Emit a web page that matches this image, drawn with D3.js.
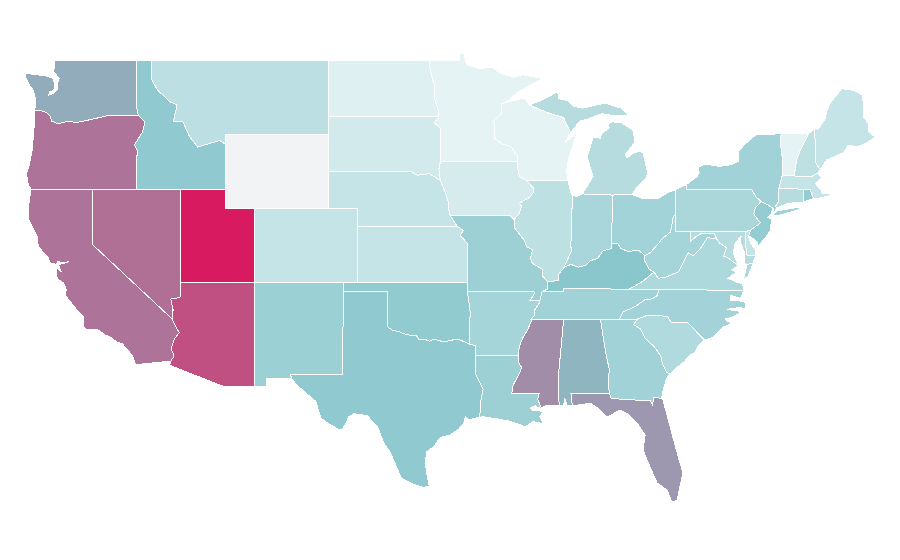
<!DOCTYPE html>
<html>
<head>
<meta charset="utf-8">
<title>US states</title>
<script src="https://cdn.jsdelivr.net/npm/d3@7"></script>
<style>
  html, body { margin: 0; padding: 0; background: #fff; }
  svg { display: block; }
  .state { stroke: #fff; stroke-width: 1; shape-rendering: crispEdges; }
</style>
</head>
<body>
<svg id="map"></svg>
<script>
// values (Wyoming has none)
const states = ["Alabama","Arizona","Arkansas","California","Colorado","Connecticut","Delaware","Florida","Georgia","Idaho","Illinois","Indiana","Iowa","Kansas","Kentucky","Louisiana","Maine","Maryland","Massachusetts","Michigan","Minnesota","Mississippi","Missouri","Montana","Nebraska","Nevada","New Hampshire","New Jersey","New Mexico","New York","North Carolina","North Dakota","Ohio","Oklahoma","Oregon","Pennsylvania","Rhode Island","South Carolina","South Dakota","Tennessee","Texas","Utah","Vermont","Virginia","Washington","West Virginia","Wisconsin","Wyoming"];
const values = [46,81.4,28.3,69,15.9,21.7,15.9,56,30.3,36.5,19,26.8,9.7,15.9,39.2,31.8,15.9,21.7,15.9,21.7,3.5,60,31.5,19.4,15.9,70.6,19,35.3,32.2,30.3,29,5.8,29.5,36,69,26,35,24,10.9,30.3,36.5,100,3.5,25.2,49,28,3.5,null];

// shared borders, lon/lat
const borders = {
  canWa: [[-122.65,49],[-117.03,49]],
  waCoast: [[-122.65,49],[-122.58,48.64],[-122.7,48.4],[-122.56,48.28],[-122.3,48],[-122.42,47.69],[-122.4,47.4],[-122.7,47.2],[-123,47.1],[-122.95,47.3],[-122.65,47.35],[-122.6,47.7],[-122.7,48],[-123.25,48.15],[-124.6,48.28],[-124.6,48.1],[-124.27,47.56],[-124.05,47.38],[-123.93,47],[-123.9,46.6],[-123.95,46.25]],
  waOr: [[-123.95,46.25],[-123.45,46.25],[-123.15,46.15],[-122.9,45.95],[-122.8,45.7],[-122.35,45.55],[-121.7,45.7],[-121.15,45.62],[-120.5,45.72],[-119.9,45.83],[-119.3,45.93],[-118.98,46],[-116.92,46]],
  waId: [[-117.03,49],[-117.04,46.42],[-116.92,46]],
  orCoast: [[-123.95,46.25],[-123.95,45.7],[-124.05,44.9],[-124.1,44.2],[-124.3,43.4],[-124.5,42.85],[-124.4,42.3],[-124.2,42]],
  orCa: [[-124.2,42],[-120,42]],
  orNv: [[-120,42],[-117.03,42]],
  orId: [[-116.92,46],[-116.47,45.65],[-116.65,45.1],[-116.85,44.85],[-117.2,44.4],[-117.05,44.2],[-116.95,44],[-117.03,43.8],[-117.03,42]],
  idNv: [[-117.03,42],[-114.04,42]],
  idUt: [[-114.04,42],[-111.05,42]],
  idWy: [[-111.05,42],[-111.05,44.45]],
  idTop: [[-117.03,49],[-116.05,49]],
  idMt: [[-116.05,49],[-116.05,48],[-115.65,47.4],[-114.8,46.75],[-114.3,46.57],[-114.55,45.65],[-113.9,45.65],[-113.45,44.85],[-112.9,44.3],[-111.4,44.65],[-111.05,44.45]],
  mtTop: [[-116.05,49],[-104.05,49]],
  mtNd: [[-104.05,49],[-104.05,45.94]],
  mtSd: [[-104.05,45.94],[-104.05,45]],
  mtWy: [[-104.05,45],[-111.05,45],[-111.05,44.45]],
  wySd: [[-104.05,45],[-104.05,43]],
  wyNe: [[-104.05,43],[-104.05,41]],
  wyCo: [[-104.05,41],[-109.05,41]],
  wyUt: [[-109.05,41],[-111.05,41],[-111.05,42]],
  caCoast: [[-124.2,42],[-124.35,41.2],[-124.4,40.44],[-123.8,39.5],[-123.7,38.9],[-123,38.3],[-122.95,38.05],[-122.5,37.95],[-122.4,38.1],[-122,38.05],[-121.6,38.1],[-122,38],[-122.35,37.95],[-122.15,37.55],[-122.45,37.75],[-122.5,37.5],[-122.4,37.15],[-122,36.95],[-121.8,36.57],[-121.9,36.3],[-121.3,35.7],[-120.9,35.3],[-120.65,35.15],[-120.63,34.57],[-120.47,34.45],[-119.6,34.4],[-119.2,34.15],[-118.8,34],[-118.35,33.75],[-118,33.65],[-117.3,33],[-117.12,32.53],[-114.72,32.72]],
  caAz: [[-114.72,32.72],[-114.5,33],[-114.7,33.4],[-114.5,33.9],[-114.15,34.27],[-114.4,34.6],[-114.63,35]],
  caNv: [[-114.63,35],[-120,39],[-120,42]],
  nvUt: [[-114.04,42],[-114.04,37]],
  nvAz: [[-114.04,37],[-114.04,36.2],[-114.35,36.13],[-114.72,36.08],[-114.57,35.5],[-114.63,35]],
  utCo: [[-109.05,41],[-109.05,37]],
  utAz: [[-109.05,37],[-114.04,37]],
  azNm: [[-109.05,37],[-109.05,31.33]],
  azMex: [[-109.05,31.33],[-111.07,31.33],[-114.81,32.5],[-114.72,32.72]],
  coNm: [[-109.05,37],[-103,37]],
  coOk: [[-103,37],[-102.05,37]],
  coKs: [[-102.05,37],[-102.05,40]],
  coNe: [[-102.05,40],[-102.05,41],[-104.05,41]],
  nmOk: [[-103,37],[-103.04,36.5]],
  nmTx: [[-103.04,36.5],[-103.06,32],[-106.62,32],[-106.53,31.78]],
  nmMex: [[-106.53,31.78],[-108.21,31.78],[-108.21,31.33],[-109.05,31.33]],
  okTx: [[-103.04,36.5],[-100,36.5],[-100,34.56],[-99.7,34.4],[-99.2,34.3],[-98.9,34.2],[-98.4,34.1],[-98.1,34.13],[-97.9,33.9],[-97.5,33.9],[-97.2,33.8],[-96.9,33.9],[-96.6,33.85],[-96.2,33.75],[-95.8,33.85],[-95.2,33.9],[-94.48,33.64]],
  arTx: [[-94.48,33.64],[-94.04,33.55],[-94.04,33.02]],
  laTx: [[-94.04,33.02],[-94.04,32],[-93.55,31.2],[-93.7,30.6],[-93.7,30.1],[-93.84,29.69]],
  txCoast: [[-93.84,29.69],[-94.5,29.55],[-94.75,29.75],[-94.85,29.4],[-95.2,29.05],[-95.8,28.73],[-96.45,28.6],[-96.9,28.1],[-97.4,27.8],[-97.45,27.2],[-97.4,26.75],[-97.2,25.95]],
  txRio: [[-97.2,25.95],[-97.6,25.9],[-98.2,26.05],[-99.1,26.4],[-99.45,27.05],[-99.85,27.8],[-100.3,28.3],[-100.65,29.1],[-101.05,29.45],[-101.4,29.77],[-102.3,29.88],[-102.65,29.73],[-102.85,29.35],[-103.15,28.98],[-103.3,29.02],[-104,29.32],[-104.55,29.65],[-104.9,30.55],[-105.5,30.95],[-106.2,31.45],[-106.53,31.78]],
  okKs: [[-102.05,37],[-94.62,37]],
  okMo: [[-94.62,37],[-94.62,36.5]],
  okAr: [[-94.62,36.5],[-94.43,35.4],[-94.48,33.64]],
  ksMo: [[-94.62,37],[-94.62,39.1],[-95.1,39.5],[-94.9,39.8],[-95.3,40]],
  neKs: [[-95.3,40],[-102.05,40]],
  neMo: [[-95.3,40],[-95.77,40.58]],
  iaNe: [[-96.45,42.5],[-96.1,41.8],[-95.9,41.3],[-95.85,40.7],[-95.77,40.58]],
  neSd: [[-96.45,42.5],[-97.2,42.85],[-98,42.77],[-98.5,43],[-104.05,43]],
  ndSd: [[-104.05,45.94],[-96.56,45.94]],
  mnSd: [[-96.56,45.94],[-96.85,45.6],[-96.45,45.3],[-96.45,43.5]],
  iaSd: [[-96.45,43.5],[-96.55,43.1],[-96.45,42.5]],
  ndTop: [[-104.05,49],[-97.23,49]],
  mnNd: [[-97.23,49],[-97.15,48.5],[-96.85,47.6],[-96.85,46.9],[-96.6,46.35],[-96.56,45.94]],
  mnTop: [[-97.23,49],[-95.15,49],[-95.15,49.38],[-94.85,49.32],[-94.65,48.75],[-93.8,48.55],[-92.95,48.6],[-92.4,48.3],[-91.5,48.07],[-90.85,48.2],[-89.5,48],[-90.1,47.75],[-91.2,47.25],[-92.02,46.7]],
  mnWi: [[-92.02,46.7],[-92.3,46.65],[-92.3,46.1],[-92.9,45.65],[-92.75,45.55],[-92.8,45.1],[-92.75,44.75],[-92.25,44.45],[-91.7,44.35],[-91.25,43.85],[-91.22,43.5]],
  iaMn: [[-91.22,43.5],[-96.45,43.5]],
  iaMo: [[-95.77,40.58],[-91.73,40.6],[-91.45,40.38]],
  iaIl: [[-91.45,40.38],[-91.1,40.7],[-90.95,41.1],[-91.1,41.25],[-90.35,41.6],[-90.15,41.85],[-90.15,42.1],[-90.65,42.51]],
  iaWi: [[-90.65,42.51],[-91.1,42.7],[-91.2,43.1],[-91.22,43.5]],
  arMo: [[-94.62,36.5],[-90.15,36.5],[-90.05,36.4],[-90.37,36],[-89.7,36]],
  tnMo: [[-89.7,36],[-89.55,36.5]],
  kyMo: [[-89.55,36.5],[-89.2,36.6],[-89.15,37]],
  ilMo: [[-89.15,37],[-89.5,37.3],[-89.55,37.7],[-90.2,38],[-90.35,38.25],[-90.2,38.75],[-90.6,38.9],[-90.75,39.25],[-91.4,39.9],[-91.45,40.38]],
  arTn: [[-89.7,36],[-89.7,35.9],[-90.05,35.5],[-90.1,35.15],[-90.3,35]],
  arMs: [[-90.3,35],[-90.3,34.85],[-90.55,34.4],[-90.85,34],[-91.1,33.5],[-91.17,33]],
  arLa: [[-91.17,33],[-94.04,33.02]],
  laMs: [[-91.17,33],[-91.15,32.65],[-90.95,32.4],[-91,32.2],[-91.4,31.6],[-91.55,31.35],[-91.6,31],[-89.75,31],[-89.85,30.65],[-89.6,30.18]],
  laCoast: [[-89.6,30.18],[-89.8,30.2],[-90,30.3],[-90.35,30.2],[-90.2,30.03],[-89.85,30.05],[-89.5,30],[-89.7,29.72],[-89.5,29.4],[-89.15,29.05],[-89.55,29.35],[-90.17,29.45],[-90.7,29.18],[-91.3,29.35],[-91.85,29.5],[-92.2,29.54],[-92.6,29.6],[-93.56,29.72],[-93.84,29.69]],
  msTop: [[-90.3,35],[-88.2,35]],
  msAl: [[-88.2,35],[-88.1,34.9],[-88.45,31.9],[-88.4,30.35]],
  msCoast: [[-88.4,30.35],[-89.2,30.35],[-89.6,30.18]],
  tnAl: [[-85.6,34.98],[-88.2,35]],
  alCoast: [[-88.4,30.35],[-88.1,30.3],[-88,30.7],[-87.85,30.3],[-87.5,30.3]],
  alFl: [[-87.5,30.3],[-87.6,31],[-85,31]],
  gaAl: [[-85,31],[-85.05,31.55],[-85,32.3],[-85.2,33],[-85.6,34.98]],
  kyTn: [[-83.67,36.6],[-86.5,36.65],[-88.07,36.67],[-88.07,36.5],[-89.55,36.5]],
  tnGa: [[-85.6,34.98],[-84.32,34.99]],
  tnNc: [[-81.68,36.59],[-81.7,36.3],[-82.05,36.1],[-82.6,36.03],[-83.1,35.75],[-83.5,35.57],[-84.05,35.4],[-84.32,34.99]],
  tnVa: [[-81.68,36.59],[-83.67,36.6]],
  ohKy: [[-84.82,39.1],[-84.4,39.05],[-84.2,38.8],[-83.7,38.65],[-83,38.72],[-82.6,38.42]],
  kyWv: [[-82.6,38.42],[-82.6,38.15],[-82.3,37.7],[-81.97,37.54]],
  kyVa: [[-81.97,37.54],[-82.7,37.05],[-83.67,36.6]],
  ilKy: [[-88.05,37.8],[-88.45,37.4],[-88.45,37.1],[-89.15,37]],
  inKy: [[-88.05,37.8],[-87.6,37.95],[-87.1,37.8],[-86.6,37.9],[-86.3,38.15],[-85.8,38.27],[-85.4,38.7],[-84.85,38.8],[-84.82,39.1]],
  ilWi: [[-90.65,42.51],[-87.8,42.5]],
  ilLake: [[-87.8,42.5],[-87.6,41.85],[-87.52,41.7]],
  ilIn: [[-87.52,41.7],[-87.53,39.35],[-87.65,39.1],[-87.55,38.7],[-87.95,38],[-88.05,37.8]],
  inLake: [[-87.52,41.7],[-87.2,41.62],[-86.82,41.76]],
  inMi: [[-86.82,41.76],[-84.8,41.7]],
  inOh: [[-84.8,41.7],[-84.82,39.1]],
  miOh: [[-84.8,41.7],[-83.45,41.73]],
  ohLake: [[-83.45,41.73],[-82.7,41.5],[-81.7,41.5],[-81,41.85],[-80.52,41.98]],
  ohPa: [[-80.52,41.98],[-80.52,40.64]],
  ohWv: [[-80.52,40.64],[-80.65,40.55],[-80.85,39.7],[-81.4,39.35],[-81.75,39],[-82.2,38.6],[-82.6,38.42]],
  wiSup: [[-92.02,46.7],[-91.2,46.87],[-90.75,46.95],[-90.42,46.57]],
  wiMi: [[-90.42,46.57],[-89.1,46.13],[-88.1,45.9],[-87.8,45.35],[-87.6,45.1]],
  wiLake: [[-87.6,45.1],[-88,44.55],[-87.4,44.9],[-87.1,45.25],[-87.5,44.3],[-87.75,43.7],[-87.9,43],[-87.8,42.5]],
  miEast: [[-83.45,41.73],[-83.15,42.1],[-82.5,42.6],[-82.4,42.9],[-82.7,43.97],[-83,44.07],[-83.4,43.95],[-83.8,43.7],[-83.9,43.9],[-83.25,44.58],[-83.4,45.2],[-84.15,45.6],[-84.8,45.66],[-85.1,45.55],[-85,45.35],[-85.5,45],[-85.6,44.78],[-86.1,44.8],[-86.5,43.75],[-86.1,42.7],[-86.82,41.76]],
  miUp: [[-87.6,45.1],[-87,45.7],[-86.5,45.8],[-85.5,46.1],[-84.75,46],[-83.7,46],[-84.2,46.4],[-85.3,46.67],[-86.8,46.4],[-87.4,46.5],[-87.8,46.8],[-88.4,46.9],[-88.5,47.3],[-87.8,47.4],[-88.6,47.25],[-89.5,46.85],[-90.42,46.57]],
  miIsle: [[-89.2,47.85],[-88.5,48.15],[-88.9,47.95],[-89.2,47.85]],
  paLake: [[-80.52,41.98],[-79.76,42.27]],
  nyPa: [[-79.76,42.27],[-79.76,42],[-75.35,42],[-75.05,41.6],[-74.7,41.36]],
  njPa: [[-74.7,41.36],[-75.1,41],[-75.2,40.7],[-75.1,40.55],[-74.75,40.2],[-74.9,40.1],[-75.42,39.8]],
  dePa: [[-75.42,39.8],[-75.79,39.72]],
  mdPa: [[-75.79,39.72],[-79.48,39.72]],
  wvPa: [[-79.48,39.72],[-80.52,39.72],[-80.52,40.64]],
  wvVa: [[-81.97,37.54],[-81.68,37.2],[-81.2,37.25],[-80.3,37.55],[-79.65,38.58],[-79.3,38.42],[-78.85,38.77],[-78.35,39.4],[-77.72,39.32]],
  mdWv: [[-77.72,39.32],[-77.85,39.6],[-78.4,39.62],[-78.8,39.6],[-79.1,39.47],[-79.48,39.2],[-79.48,39.72]],
  vaNc: [[-81.68,36.59],[-75.87,36.55]],
  vaCoast: [[-75.87,36.55],[-75.95,36.9],[-76.4,37],[-76.95,37.2],[-76.35,37.55],[-76.7,37.65],[-76.25,37.9]],
  mdVa: [[-76.25,37.9],[-76.95,38.3],[-77.25,38.4],[-77.05,38.85],[-77.5,39.1],[-77.72,39.32]],
  vaShore: [[-75.9,37.15],[-75.58,37.3],[-75.25,38.03],[-75.65,37.95],[-75.9,37.15]],
  mdBay: [[-76.25,37.9],[-76.59,38.55],[-76.47,39.09],[-76.05,39.5],[-76.14,39.2],[-75.8,38.55],[-75.85,38],[-75.65,37.95]],
  mdShore: [[-75.65,37.95],[-75.25,38.03],[-75.05,38.45]],
  deMd: [[-75.79,39.72],[-75.7,38.46],[-75.05,38.45]],
  deCoast: [[-75.42,39.8],[-75.55,39.45],[-75.4,39.05],[-75.1,38.8],[-75.05,38.45]],
  njNy: [[-74.7,41.36],[-73.9,41]],
  njCoast: [[-73.9,41],[-74.05,40.65],[-74.25,40.5],[-73.98,40.4],[-74.1,39.75],[-74.4,39.4],[-74.9,38.95],[-75,39.2],[-75.55,39.5],[-75.42,39.8]],
  nyLake: [[-79.76,42.27],[-79.05,42.7],[-78.9,42.9],[-78.97,43.2],[-78.5,43.37],[-77.5,43.25],[-76.7,43.35],[-76.2,43.55],[-76.27,44.03],[-75.8,44.45],[-75.35,44.77],[-75,44.97],[-73.35,45.01]],
  nyVt: [[-73.35,45.01],[-73.4,44.5],[-73.25,43.6],[-73.27,42.75]],
  nyMa: [[-73.27,42.75],[-73.5,42.05]],
  ctNy: [[-73.5,42.05],[-73.55,41.3],[-73.72,41.1],[-73.65,41]],
  nyCoast: [[-73.65,41],[-73.8,40.8],[-73.9,41]],
  longIsland: [[-73.87,40.62],[-73.65,40.85],[-73.1,40.92],[-72.3,41.02],[-71.95,41],[-72.5,40.82],[-73.5,40.6],[-73.87,40.62]],
  vtTop: [[-73.35,45.01],[-71.5,45.01]],
  vtMa: [[-73.27,42.75],[-72.46,42.73]],
  nhVt: [[-72.46,42.73],[-72.3,43.6],[-72.05,44.1],[-71.5,45.01]],
  nhTop: [[-71.5,45.01],[-71.08,45.3]],
  nhMe: [[-71.08,45.3],[-70.98,43.4],[-70.7,43.08]],
  nhCoast: [[-70.7,43.08],[-70.85,42.88]],
  nhMa: [[-70.85,42.88],[-71.3,42.7],[-72.46,42.73]],
  meOuter: [[-71.08,45.3],[-70.85,45.25],[-70.4,45.75],[-70.25,46.2],[-70,46.7],[-69.22,47.46],[-69.05,47.43],[-68.35,47.35],[-67.8,47.07],[-67.78,45.95],[-67.45,45.6],[-67.45,45.15],[-66.97,44.83],[-67.6,44.5],[-68.2,44.3],[-68.8,44.4],[-69.1,44],[-69.8,43.75],[-70.25,43.6],[-70.7,43.08]],
  maCoast: [[-70.85,42.88],[-70.6,42.65],[-71,42.3],[-70.65,41.98],[-70.55,41.78],[-70.05,41.8],[-69.95,41.7],[-70.6,41.55],[-71.15,41.5]],
  maRi: [[-71.15,41.5],[-71.33,41.9],[-71.38,42.02],[-71.8,42.02]],
  maCt: [[-71.8,42.02],[-73.5,42.05]],
  ctRi: [[-71.8,42.02],[-71.86,41.32]],
  ctCoast: [[-71.86,41.32],[-72.9,41.25],[-73.65,41]],
  riCoast: [[-71.86,41.32],[-71.4,41.45],[-71.15,41.5]],
  gaNc: [[-84.32,34.99],[-83.1,35]],
  ncSc: [[-83.1,35],[-82.4,35.2],[-81.05,35.15],[-80.8,34.82],[-79.67,34.8],[-78.55,33.86]],
  ncCoast: [[-78.55,33.86],[-77.95,34],[-77.3,34.55],[-76.75,34.75],[-77.15,35],[-76.65,35.1],[-76,35.4],[-77.04,35.52],[-76.2,35.62],[-75.75,35.55],[-75.75,35.9],[-76.3,36],[-76.8,36],[-76.8,36.3],[-76.1,36.1],[-75.95,36.4],[-75.87,36.55]],
  scCoast: [[-78.55,33.86],[-79,33.5],[-79.2,33.2],[-79.6,33],[-79.9,32.7],[-80.45,32.35],[-80.87,32.03]],
  gaSc: [[-83.1,35],[-83.35,34.7],[-82.9,34.48],[-82.55,33.95],[-81.95,33.5],[-81.5,33],[-81.4,32.6],[-81.1,32.1],[-80.87,32.03]],
  gaFl: [[-85,31],[-84.86,30.7],[-82.2,30.57],[-82.05,30.35],[-82,30.75],[-81.45,30.72]],
  gaCoast: [[-81.45,30.72],[-81.3,31.3],[-81.1,31.8],[-80.87,32.03]],
  flCoast: [[-87.5,30.3],[-86.3,30.45],[-85.7,30.15],[-85.15,29.7],[-84.27,30.08],[-83.7,29.85],[-83.1,29.38],[-82.57,28.73],[-82.71,27.92],[-82.44,27.38],[-81.76,26.14],[-81.08,25.76],[-80.75,25.1],[-80.4,25.2],[-80,26.7],[-80.2,27.2],[-80.68,28.6],[-81.35,30.6],[-81.45,30.72]]
};

// each state: rings built from the borders, "-" means walk it backwards
const shapes = {
  Washington: [["canWa","waId","-waOr","-waCoast"]],
  Oregon: [["waOr","orId","-orNv","-orCa","-orCoast"]],
  Idaho: [["idTop","idMt","-idWy","-idUt","-idNv","-orId","-waId"]],
  Montana: [["mtTop","mtNd","mtSd","mtWy","-idMt"]],
  Wyoming: [["-mtWy","wySd","wyNe","wyCo","wyUt","idWy"]],
  California: [["caCoast","caAz","caNv","-orCa"]],
  Nevada: [["orNv","idNv","nvUt","nvAz","caNv"]],
  Utah: [["idUt","-wyUt","utCo","utAz","-nvUt"]],
  Arizona: [["-utAz","azNm","azMex","caAz","-nvAz"]],
  Colorado: [["utCo","coNm","coOk","coKs","coNe","wyCo"]],
  "New Mexico": [["coNm","nmOk","nmTx","nmMex","-azNm"]],
  Texas: [["okTx","arTx","laTx","txCoast","txRio","-nmTx"]],
  Oklahoma: [["coOk","okKs","okMo","okAr","-okTx","-nmOk"]],
  Kansas: [["okKs","ksMo","neKs","-coKs"]],
  Nebraska: [["-coNe","-neKs","neMo","-iaNe","neSd","wyNe"]],
  "South Dakota": [["-wySd","-mtSd","ndSd","mnSd","iaSd","neSd"]],
  "North Dakota": [["-mtNd","ndTop","mnNd","-ndSd"]],
  Minnesota: [["mnTop","mnWi","iaMn","-mnSd","-mnNd"]],
  Iowa: [["iaMn","iaSd","iaNe","iaMo","iaIl","iaWi"]],
  Missouri: [["-iaMo","-neMo","-ksMo","okMo","arMo","tnMo","kyMo","ilMo"]],
  Arkansas: [["arMo","arTn","arMs","arLa","-arTx","-okAr"]],
  Louisiana: [["-arLa","laMs","laCoast","-laTx"]],
  Mississippi: [["msTop","msAl","msCoast","-laMs","-arMs"]],
  Alabama: [["tnAl","msAl","alCoast","alFl","gaAl"]],
  Tennessee: [["kyTn","-tnMo","arTn","msTop","-tnAl","tnGa","-tnNc","tnVa"]],
  Kentucky: [["ohKy","kyWv","kyVa","kyTn","kyMo","-ilKy","inKy"]],
  Illinois: [["ilWi","ilLake","ilIn","ilKy","ilMo","iaIl"]],
  Indiana: [["inLake","inMi","inOh","-inKy","-ilIn"]],
  Ohio: [["miOh","ohLake","ohPa","ohWv","-ohKy","-inOh"]],
  Wisconsin: [["wiSup","wiMi","wiLake","-ilWi","iaWi","-mnWi"]],
  Michigan: [["inMi","miOh","miEast"],["wiMi","miUp"],["miIsle"]],
  Pennsylvania: [["-ohPa","paLake","nyPa","njPa","dePa","mdPa","wvPa"]],
  "West Virginia": [["wvPa","ohWv","kyWv","wvVa","mdWv"]],
  Virginia: [["-wvVa","kyVa","-tnVa","vaNc","vaCoast","mdVa"],["vaShore"]],
  Maryland: [["-mdVa","mdBay","mdShore","-deMd","mdPa","-mdWv"]],
  Delaware: [["-dePa","deCoast","-deMd"]],
  "New Jersey": [["-njPa","njNy","njCoast"]],
  "New York": [["nyLake","nyVt","nyMa","ctNy","nyCoast","-njNy","-nyPa"],["longIsland"]],
  Vermont: [["vtTop","-nhVt","-vtMa","-nyVt"]],
  "New Hampshire": [["nhVt","nhTop","nhMe","nhCoast","nhMa"]],
  Maine: [["meOuter","-nhMe"]],
  Massachusetts: [["vtMa","-nhMa","maCoast","maRi","maCt","-nyMa"]],
  Connecticut: [["-maCt","ctRi","ctCoast","-ctNy"]],
  "Rhode Island": [["maRi","ctRi","riCoast"]],
  "North Carolina": [["-vaNc","tnNc","gaNc","ncSc","ncCoast"]],
  "South Carolina": [["ncSc","scCoast","-gaSc"]],
  Georgia: [["-tnGa","-gaAl","gaFl","gaCoast","-gaSc","-gaNc"]],
  Florida: [["-alFl","flCoast","-gaFl"]]
};

const width = 900;
const height = 560;

const svg = d3.select("#map")
    .attr("width", width)
    .attr("height", height);

// plain lon/lat grid, the map is not bent
const xScale = d3.scaleLinear().domain([-111.05, -104.05]).range([225, 328.25]);
const yScale = d3.scaleLinear().domain([45, 41]).range([134, 208]);

const projection = d3.geoTransform({
  point: function(lon, lat) { this.stream.point(xScale(lon), yScale(lat)); }
});
const path = d3.geoPath(projection);

const color = d3.scaleLinear()
    .domain([0, 40, 100])
    .range(["#eef7f8", "#87c6cc", "#d81b60"]);
const noData = "#f2f3f5";

function ring(names) {
  const pts = [];
  names.forEach(n => {
    const back = n[0] === "-";
    const line = borders[back ? n.slice(1) : n];
    const walk = back ? line.slice().reverse() : line;
    pts.push(...(pts.length ? walk.slice(1) : walk));
  });
  return pts;
}

const features = states.map((name, i) => ({
  type: "Feature",
  properties: { name: name, value: values[i] },
  geometry: { type: "MultiPolygon", coordinates: shapes[name].map(r => [ring(r)]) }
}));

svg.append("g")
  .selectAll("path")
  .data(features)
  .join("path")
    .attr("class", "state")
    .attr("d", path)
    .attr("fill", d => d.properties.value == null ? noData : color(d.properties.value));
</script>
</body>
</html>
